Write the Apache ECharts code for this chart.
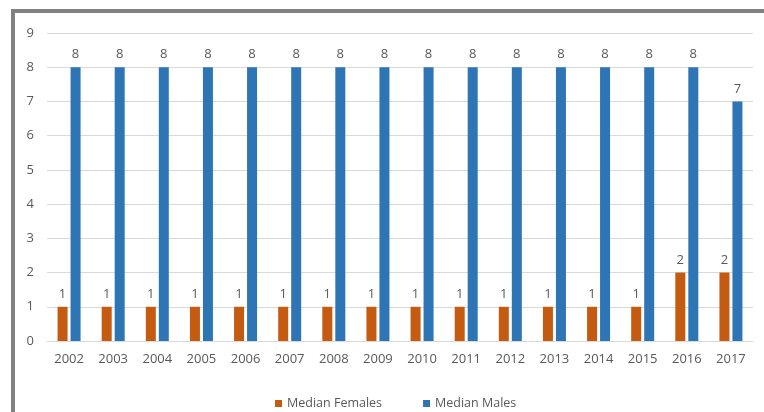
<!DOCTYPE html>
<html>
<head>
<meta charset="utf-8">
<style>
  html, body { margin: 0; padding: 0; background: #fff; }
  #chart { width: 764px; height: 412px; }
</style>
<script src="https://cdn.jsdelivr.net/npm/echarts@6/dist/echarts.min.js"></script>
</head>
<body>
<div id="chart"></div>
<script>
// Median values per year
const years = ['2002','2003','2004','2005','2006','2007','2008','2009','2010','2011','2012','2013','2014','2015','2016','2017'];
const medianFemales = [1,1,1,1,1,1,1,1,1,1,1,1,1,1,2,2];
const medianMales = [8,8,8,8,8,8,8,8,8,8,8,8,8,8,8,7];
const yTicks = { min: 0, max: 9, interval: 1 };

const textColor = '#595959';
const fontFamily = '"Open Sans", "Noto Sans", sans-serif';

const chart = echarts.init(document.getElementById('chart'));
chart.setOption({
  animation: false,
  textStyle: { fontFamily: fontFamily },
  graphic: [
    // frame around the chart (top and left edges visible)
    { type: 'rect', shape: { x: 13, y: 11, width: 800, height: 450 },
      style: { fill: 'none', stroke: '#808080', lineWidth: 4 }, z: 100 }
  ],
  grid: { left: 47, right: 11, top: 33, bottom: 71, containLabel: false },
  legend: {
    top: 392,
    left: 270,
    itemWidth: 7,
    itemHeight: 7,
    itemGap: 41,
    icon: 'rect',
    textStyle: { color: textColor, fontSize: 12.5, fontFamily: fontFamily },
    data: ['Median Females', 'Median Males']
  },
  xAxis: {
    type: 'category',
    data: years,
    axisLine: { lineStyle: { color: '#d9d9d9', width: 1 } },
    axisTick: { show: false },
    axisLabel: { color: textColor, fontSize: 13, margin: 12 }
  },
  yAxis: {
    type: 'value',
    min: yTicks.min,
    max: yTicks.max,
    interval: yTicks.interval,
    axisLine: { show: false },
    axisTick: { show: false },
    splitLine: { lineStyle: { color: '#d9d9d9', width: 1 } },
    axisLabel: { color: textColor, fontSize: 13, margin: 13 }
  },
  series: [
    {
      name: 'Median Females',
      type: 'bar',
      data: medianFemales,
      itemStyle: { color: '#c55a11' },
      barWidth: 10,
      barGap: '30%',
      label: { show: true, position: 'top', color: textColor, fontSize: 13, distance: 6 }
    },
    {
      name: 'Median Males',
      type: 'bar',
      data: medianMales,
      itemStyle: { color: '#2e75b6' },
      barWidth: 10,
      label: { show: true, position: 'top', color: textColor, fontSize: 13, distance: 6 }
    }
  ]
});
</script>
</body>
</html>
